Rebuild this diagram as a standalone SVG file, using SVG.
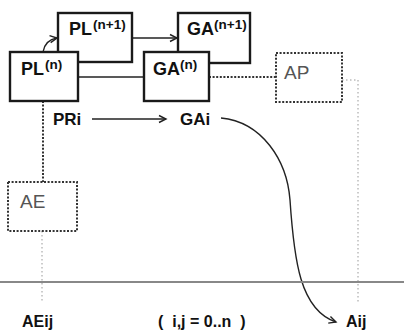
<svg xmlns="http://www.w3.org/2000/svg" width="404" height="332" viewBox="0 0 404 332">
<style>
.box{fill:#fff;stroke:#1a1a1a;stroke-width:2.4}
.dbox{fill:none;stroke:#333;stroke-width:2;stroke-dasharray:2,1.6}
.t{font-family:"Liberation Sans",Arial,sans-serif;font-weight:bold;fill:#111}
.m{font-size:18px}
.s{font-size:13.5px}
.g{font-family:"Liberation Sans",Arial,sans-serif;font-size:19px;fill:#555}
.ln{fill:none;stroke:#222;stroke-width:1.4}
.dot{fill:none;stroke:#333;stroke-width:2;stroke-dasharray:2,1.6}
.lt{fill:none;stroke:#999;stroke-width:1;stroke-dasharray:1.5,2.5}
</style>
<defs>
<marker id="ah" markerWidth="10" markerHeight="10" refX="8" refY="5" orient="auto" markerUnits="userSpaceOnUse">
<path d="M1,1.5 L8,5 L1,8.5" fill="none" stroke="#222" stroke-width="1.4"/>
</marker>
</defs>
<g id="connectors">
<path class="ln" d="M132,38 H177" marker-end="url(#ah)"/>
<path class="ln" d="M77,77 H144"/>
<path class="ln" d="M43,52 Q45,40 57,38" marker-end="url(#ah)"/>
<path class="ln" d="M92,119 H166" marker-end="url(#ah)"/>
<path class="ln" d="M221,118 C262,122 287,160 290,200 C294,260 300,310 336,322" marker-end="url(#ah)"/>
<path class="dot" d="M43,101 V182"/>
<path class="dot" d="M209,77 H276"/>
<path class="lt" d="M42,231 V303"/>
<path class="lt" d="M342,80 H358 V303"/>
<path d="M0,282 H404" stroke="#888" stroke-width="2" fill="none"/>
</g>
<g id="PLn1"><rect class="box" x="58" y="13" width="74" height="49"/><text class="t m" x="69" y="35">PL</text><text class="t s" x="93" y="29">(n+1)</text></g>
<g id="GAn1"><rect class="box" x="178" y="13" width="72" height="50"/><text class="t m" x="187" y="35">GA</text><text class="t s" x="214" y="29">(n+1)</text></g>
<g id="PLn"><rect class="box" x="10" y="52" width="68" height="49"/><text class="t m" x="21" y="75">PL</text><text class="t s" x="45" y="69">(n)</text></g>
<g id="GAn"><rect class="box" x="144" y="52" width="65" height="49"/><text class="t m" x="153" y="75">GA</text><text class="t s" x="180" y="69">(n)</text></g>
<g id="AP"><rect class="dbox" x="276" y="53" width="66" height="49"/><text class="g" x="284" y="79">AP</text></g>
<g id="AE"><rect class="dbox" x="8" y="182" width="69" height="49"/><text class="g" x="20" y="208">AE</text></g>
<g id="PRi"><text class="t" font-size="17" x="53" y="125">PRi</text></g>
<g id="GAi"><text class="t" font-size="17" x="180" y="125">GAi</text></g>
<g id="AEij"><text class="t" font-size="16" x="22" y="327">AEij</text></g>
<g id="range"><text class="t" font-size="16" x="158" y="327" xml:space="preserve">(  i,j = 0..n  )</text></g>
<g id="Aij"><text class="t" font-size="16" x="346" y="327">Aij</text></g>
</svg>
